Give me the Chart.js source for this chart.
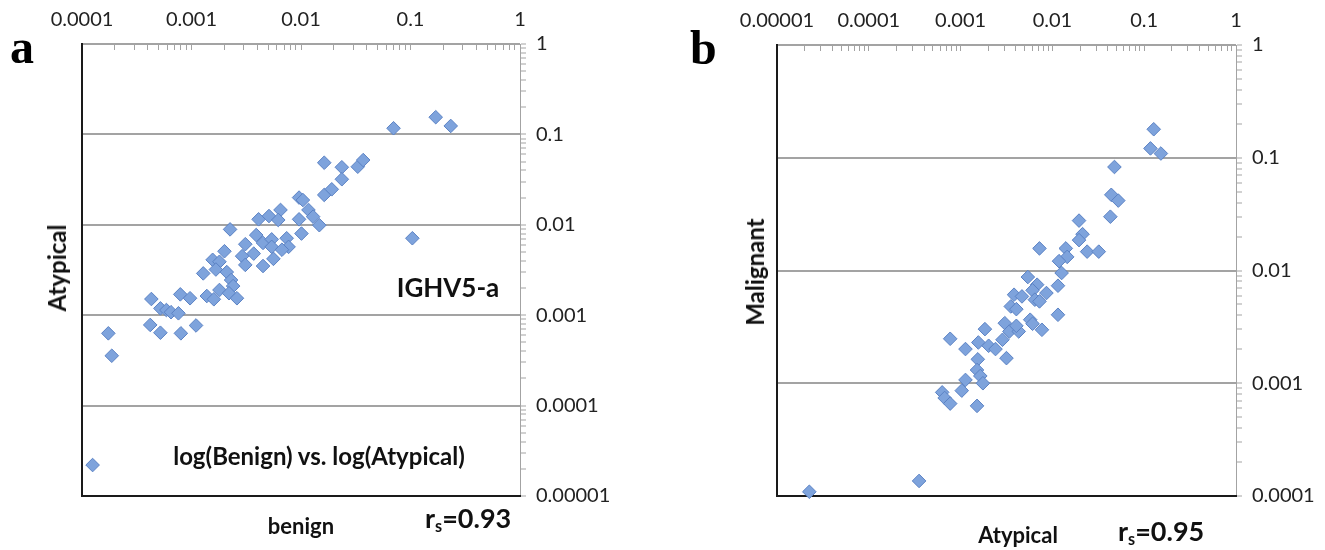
<!DOCTYPE html>
<html>
<head>
<meta charset="utf-8">
<script src="https://cdn.jsdelivr.net/npm/chart.js@4.4.1/dist/chart.umd.min.js"></script>
<style>
  html, body { margin: 0; padding: 0; background: #fff; }
  #page { position: relative; width: 1325px; height: 550px; overflow: hidden; }
  canvas { position: absolute; top: 0; }
  .t { position: absolute; white-space: nowrap; line-height: 1; font-family: Lato, "Open Sans", sans-serif;
       font-weight: bold; color: #111; transform: translate(-50%, -50%); }
  .t.rot { transform: translate(-50%, -50%) rotate(-90deg); }
  .t.lft { transform: translate(0, -50%); }
  .t sub { font-size: 60%; vertical-align: -0.3em; line-height: 0; }
  .letter { position: absolute; font-family: "Liberation Serif", "DejaVu Serif", serif; font-weight: bold;
            font-size: 48px; line-height: 1; color: #000; transform: translate(0, -50%); }
</style>
</head>
<body>
<div id="page">
  <canvas id="chartA" width="660" height="550" style="left:0px"></canvas>
  <canvas id="chartB" width="665" height="550" style="left:660px"></canvas>

  <div class="letter" style="left:10px; top:47px">a</div>
  <div class="letter" style="left:690px; top:48px">b</div>

  <div class="t rot" style="left:57px; top:268px; font-size:24px">Atypical</div>
  <div class="t" style="left:301px; top:526px; font-size:22px">benign</div>
  <div class="t lft" style="left:425px; top:517px; font-size:27px">r<sub>s</sub>=0.93</div>
  <div class="t" style="left:448px; top:287px; font-size:26px">IGHV5-a</div>
  <div class="t" style="left:319px; top:456px; font-size:24px">log(Benign) vs. log(Atypical)</div>

  <div class="t rot" style="left:755px; top:272px; font-size:24px">Malignant</div>
  <div class="t" style="left:1018px; top:535px; font-size:22px">Atypical</div>
  <div class="t lft" style="left:1118px; top:530px; font-size:27px">r<sub>s</sub>=0.95</div>
</div>

<script>
// panel a: benign (x) vs atypical (y)
const benignA = [0.00225, 0.0041, 0.0051, 0.0039, 0.0031, 0.0045, 0.0054, 0.0054, 0.0020, 0.00156,
  0.0018, 0.0029, 0.0037, 0.0031, 0.0045, 0.0056, 0.00128, 0.00167, 0.0021, 0.0023,
  0.0024, 0.0018, 0.0022, 0.00138, 0.0016, 0.0026, 0.00079, 0.00097, 0.00043, 0.00052,
  0.00059, 0.00065, 0.00076, 0.00042, 0.00052, 0.0008, 0.0011, 0.000174, 0.000187, 0.000125,
  0.0065, 0.0062, 0.0096, 0.0104, 0.0096, 0.0117, 0.0129, 0.0147, 0.0101, 0.0074,
  0.0077, 0.0067, 0.0163, 0.0236, 0.0236, 0.033, 0.037, 0.0163, 0.0191, 0.070,
  0.170, 0.233, 0.104];
const atypicalA = [0.0089, 0.0115, 0.0125, 0.0077, 0.0061, 0.0063, 0.0069, 0.0057, 0.0051, 0.0041,
  0.0039, 0.0045, 0.0048, 0.0036, 0.0035, 0.0042, 0.0029, 0.0032, 0.0030, 0.00245,
  0.0021, 0.0019, 0.00175, 0.00163, 0.0015, 0.00154, 0.0017, 0.00154, 0.00151, 0.00119,
  0.00114, 0.00108, 0.00105, 0.00078, 0.00064, 0.00063, 0.00077, 0.00063, 0.000356, 0.000022,
  0.0146, 0.0113, 0.020, 0.0188, 0.0115, 0.0146, 0.0123, 0.0099, 0.0080, 0.0071,
  0.0057, 0.0053, 0.0486, 0.0433, 0.0319, 0.0439, 0.052, 0.0214, 0.0247, 0.117,
  0.155, 0.124, 0.0071];

// panel b: atypical (x) vs malignant (y)
const atypicalB = [0.0054, 0.00682, 0.00861, 0.0115, 0.0126, 0.00382, 0.00466, 0.00608, 0.00644, 0.00723,
  0.00352, 0.00405, 0.0115, 0.00573, 0.00608, 0.00769, 0.00303, 0.0034, 0.0043, 0.00405,
  0.00184, 0.00286, 0.00156, 0.00202, 0.0024, 0.00113, 0.00316, 0.00154, 0.00151, 0.00164,
  0.00113, 0.00175, 0.00103, 0.00063, 0.00067, 0.00077, 0.00151, 0.000353, 0.0000225, 0.00077,
  0.127, 0.117, 0.152, 0.0474, 0.0438, 0.0522, 0.0428, 0.0195, 0.0213, 0.0195,
  0.0239, 0.032, 0.00723, 0.014, 0.0145, 0.0118];
const malignantB = [0.00875, 0.00748, 0.00631, 0.00733, 0.0095, 0.0061, 0.00589, 0.00667, 0.00551, 0.00532,
  0.0048, 0.00454, 0.00405, 0.00366, 0.00337, 0.00298, 0.00341, 0.00288, 0.00288, 0.00323,
  0.00302, 0.00243, 0.0023, 0.00215, 0.00201, 0.00201, 0.00167, 0.00163, 0.00131, 0.00116,
  0.00107, 0.001, 0.00086, 0.00083, 0.00074, 0.00066, 0.00063, 0.000136, 0.000109, 0.00248,
  0.179, 0.121, 0.109, 0.0828, 0.0469, 0.0417, 0.030, 0.0277, 0.0210, 0.0186,
  0.0147, 0.0147, 0.0157, 0.0157, 0.0132, 0.0121];

// axis decades and their labels
const xTicksA = [0.0001, 0.001, 0.01, 0.1, 1];
const xLabelsA = ["0.0001", "0.001", "0.01", "0.1", "1"];
const yTicksA = [0.00001, 0.0001, 0.001, 0.01, 0.1, 1];
const yLabelsA = ["0.00001", "0.0001", "0.001", "0.01", "0.1", "1"];
const xTicksB = [0.00001, 0.0001, 0.001, 0.01, 0.1, 1];
const xLabelsB = ["0.00001", "0.0001", "0.001", "0.01", "0.1", "1"];
const yTicksB = [0.0001, 0.001, 0.01, 0.1, 1];
const yLabelsB = ["0.0001", "0.001", "0.01", "0.1", "1"];
const MINOR = [2, 3, 4, 5, 6, 7, 8, 9];

const GRAY = "#a3a3a3";
const TICK_FONT = { family: "Lato", size: 20 };

function logTicks(majors) {
  const out = [];
  majors.forEach((v, i) => {
    out.push({ value: v, major: true });
    if (i < majors.length - 1) MINOR.forEach(m => out.push({ value: v * m, major: false }));
  });
  return out;
}

function makePanel(id, xs, ys, xMaj, xLab, yMaj, yLab, box) {
  return new Chart(document.getElementById(id), {
    type: "scatter",
    data: {
      datasets: [{
        data: xs.map((x, i) => ({ x: x, y: ys[i] })),
        pointStyle: "rectRot",
        pointRadius: 6.8,
        backgroundColor: "#7ea3dc",
        borderColor: "#5b82c4",
        borderWidth: 1,
        clip: false,
        xAxisID: "x",
        yAxisID: "y"
      }]
    },
    options: {
      responsive: false,
      animation: false,
      devicePixelRatio: 1,
      events: [],
      layout: { padding: 0 },
      plugins: { legend: { display: false }, tooltip: { enabled: false } },
      scales: {
        x: {
          type: "logarithmic", position: "top",
          min: xMaj[0], max: xMaj[xMaj.length - 1],
          afterBuildTicks: s => { s.ticks = logTicks(xMaj); },
          afterFit: s => { s.height = box.top; },
          ticks: {
            autoSkip: false, maxRotation: 0, padding: 18, color: "#222", font: TICK_FONT,
            callback: v => { const i = xMaj.indexOf(v); return i < 0 ? "" : xLab[i]; }
          },
          grid: { drawOnChartArea: false, tickLength: -6, tickColor: GRAY, tickWidth: 1 },
          border: { color: GRAY, width: 1 }
        },
        y: {
          type: "logarithmic", position: "right",
          min: yMaj[0], max: yMaj[yMaj.length - 1],
          afterBuildTicks: s => { s.ticks = logTicks(yMaj); },
          afterFit: s => { s.width = box.right; },
          ticks: {
            autoSkip: false, padding: 10, color: "#222", font: TICK_FONT,
            callback: v => { const i = yMaj.indexOf(v); return i < 0 ? "" : yLab[i]; }
          },
          grid: {
            color: c => (c.tick && c.tick.major) ? GRAY : "rgba(0,0,0,0)",
            lineWidth: 2, tickLength: 6, tickColor: GRAY, tickWidth: 1
          },
          border: { color: GRAY, width: 1 }
        },
        // plain frame lines on the left and bottom
        yl: {
          type: "linear", position: "left", display: true,
          ticks: { display: false }, grid: { display: false, drawTicks: false },
          border: { color: "#1a1a1a", width: 2 },
          afterFit: s => { s.width = box.left; }
        },
        xb: {
          type: "linear", position: "bottom", display: true,
          ticks: { display: false }, grid: { display: false, drawTicks: false },
          border: { color: "#1a1a1a", width: 2 },
          afterFit: s => { s.height = box.bottom; }
        }
      }
    }
  });
}

makePanel("chartA", benignA, atypicalA, xTicksA, xLabelsA, yTicksA, yLabelsA,
  { left: 82, right: 140, top: 44, bottom: 54 });
makePanel("chartB", atypicalB, malignantB, xTicksB, xLabelsB, yTicksB, yLabelsB,
  { left: 117, right: 89, top: 45, bottom: 54 });
</script>
</body>
</html>
